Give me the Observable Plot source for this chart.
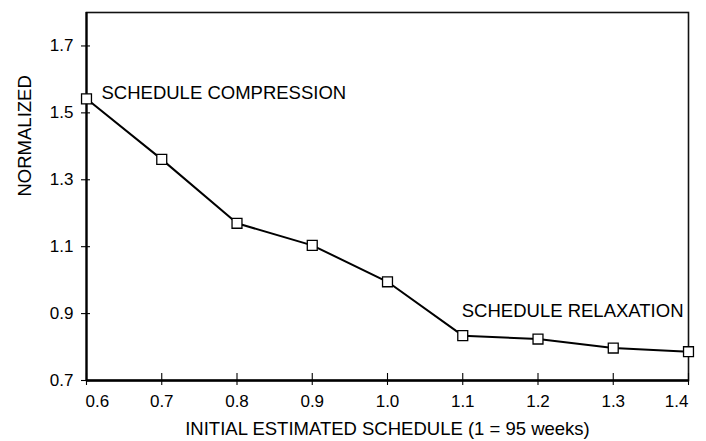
<!DOCTYPE html>
<html>
<head>
<meta charset="utf-8">
<script src="https://cdn.jsdelivr.net/npm/d3@7"></script>
<script src="https://cdn.jsdelivr.net/npm/@observablehq/plot@0.6"></script>
<style>
  html, body { margin: 0; padding: 0; background: #fff; }
  #chart svg { display: block; }
</style>
</head>
<body>
<div id="chart"></div>
<script>
// Data
const scheduleValues = [0.6, 0.7, 0.8, 0.9, 1.0, 1.1, 1.2, 1.3, 1.4];
const normalizedValues = [1.542, 1.361, 1.170, 1.104, 0.995, 0.834, 0.824, 0.797, 0.786];
const xTicks = [0.6, 0.7, 0.8, 0.9, 1.0, 1.1, 1.2, 1.3, 1.4];
const yTicks = [0.7, 0.9, 1.1, 1.3, 1.5, 1.7];
const annotations = ["SCHEDULE COMPRESSION", "SCHEDULE RELAXATION"];
const xTitle = "INITIAL ESTIMATED SCHEDULE (1 = 95 weeks)";
const yTitle = "NORMALIZED";

const data = scheduleValues.map((x, i) => ({x, y: normalizedValues[i]}));
const first = data[0];
const last = data[data.length - 1];
const tickFont = 17;

const chart = Plot.plot({
  width: 706,
  height: 441,
  marginLeft: 86,
  marginRight: 18,
  marginTop: 12,
  marginBottom: 61,
  style: {fontFamily: "'Liberation Sans', Arial, Helvetica, sans-serif", color: "#000", background: "#fff"},
  x: {domain: [0.6, 1.4], label: null},
  y: {domain: [0.7, 1.8], label: null},
  marks: [
    Plot.frame({stroke: "#111", strokeWidth: 1.6}),
    Plot.ruleX([xTicks[0]], {stroke: "#000", strokeWidth: 2.2}),
    Plot.ruleY([yTicks[0]], {stroke: "#000", strokeWidth: 2.4}),
    Plot.axisY({ticks: yTicks, tickSize: 9, dx: 4, text: null, label: null, strokeWidth: 1.1}),
    Plot.axisY({ticks: yTicks, tickSize: 0, tickPadding: 13, tickFormat: ".1f", fontSize: tickFont, label: null}),
    Plot.axisX({ticks: xTicks, tickSize: 12, dy: -7, text: null, label: null, strokeWidth: 1.1}),
    Plot.axisX({ticks: xTicks.slice(1, -1), tickSize: 0, tickPadding: 14, tickFormat: ".1f", fontSize: tickFont, label: null}),
    Plot.axisX({ticks: xTicks.slice(0, 1), tickSize: 0, tickPadding: 14, tickFormat: ".1f", fontSize: tickFont, label: null, textAnchor: "start", dx: -1}),
    Plot.axisX({ticks: xTicks.slice(-1), tickSize: 0, tickPadding: 14, tickFormat: ".1f", fontSize: tickFont, label: null, textAnchor: "end", dx: 0}),
    Plot.line(data, {x: "x", y: "y", stroke: "#000", strokeWidth: 2}),
    Plot.dot(data, {x: "x", y: "y", symbol: "square", r: 5.6, fill: "#fff", stroke: "#000", strokeWidth: 1.3}),
    Plot.text([first], {x: "x", y: "y", text: () => annotations[0], textAnchor: "start", lineAnchor: "bottom", dx: 15, dy: 0, fontSize: 18.5, fill: "#000"}),
    Plot.text([last], {x: "x", y: "y", text: () => annotations[1], textAnchor: "end", lineAnchor: "bottom", dx: -5, dy: -35, fontSize: 18.5, fill: "#000"}),
    Plot.text([xTitle], {frameAnchor: "bottom", dy: 54, lineAnchor: "bottom", fontSize: 18.5, fill: "#000"}),
    Plot.text([yTitle], {frameAnchor: "left", dx: -61, rotate: -90, fontSize: 18.5, fill: "#000"})
  ]
});
document.getElementById("chart").appendChild(chart);
</script>
</body>
</html>
